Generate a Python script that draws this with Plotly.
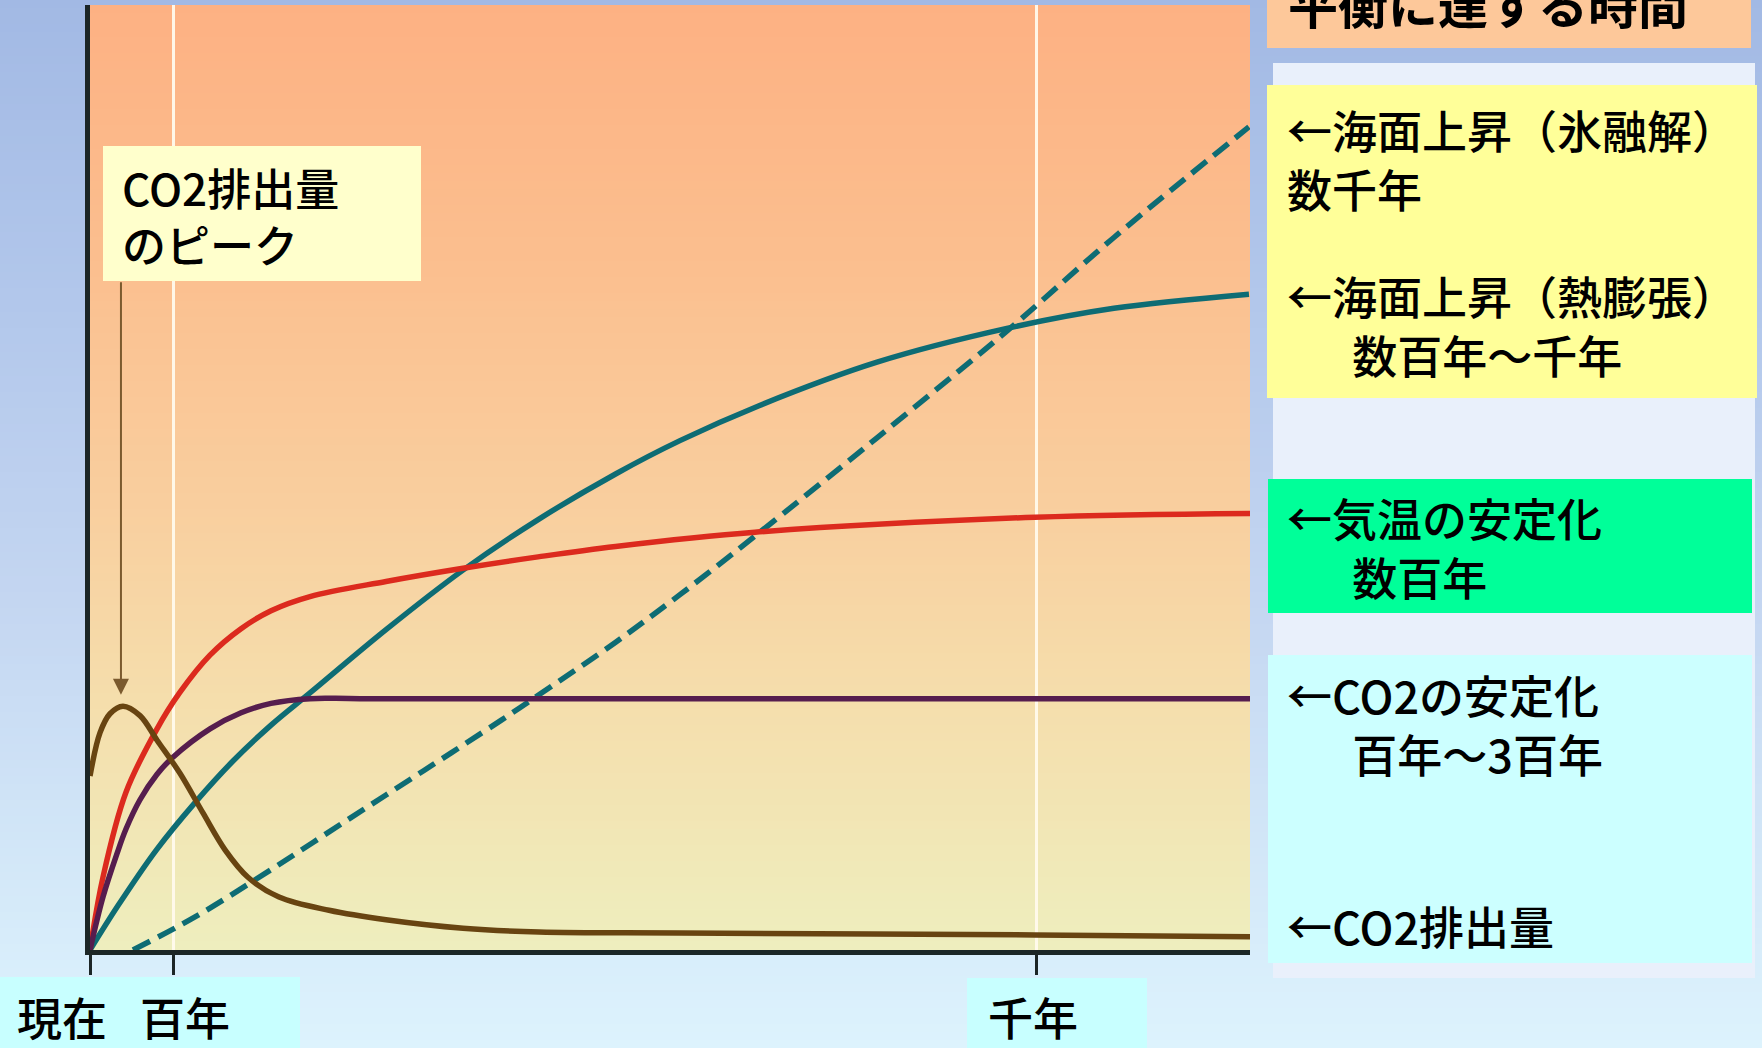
import plotly.graph_objects as go

# ---------------------------------------------------------------
# Schematic time axis: 0 = present, 1000 = one thousand years
# ---------------------------------------------------------------
tick_pos = [0, 88, 1000]
x_max = 1225
y_max = 100

# CO2 emissions (peak, then decline)
t_emis = [0, 10.6, 21.1, 34.8, 52.8, 70.8, 95.0, 119.3, 142.6, 166.8, 199.6,
          252.4, 312.6, 393.9, 474.1, 623.0, 997.9, 1225]
co2_emissions = [18.4, 23.0, 25.0, 25.8, 24.8, 22.2, 18.7, 14.5, 10.6, 7.7, 5.6,
                 4.2, 3.2, 2.3, 1.9, 1.8, 1.6, 1.4]

# CO2 concentration stabilisation
t_conc = [0, 13.7, 28.5, 38.0, 52.8, 70.8, 87.6, 126.7, 159.5, 191.2, 232.3, 285.1, 1225]
co2_concentration = [0, 5.6, 10.2, 12.8, 15.9, 18.6, 20.4, 23.4, 25.1, 26.1, 26.6, 26.6, 26.6]

# Temperature stabilisation
t_temp = [0, 13.7, 38.0, 70.2, 94.5, 126.7, 159.5, 191.2, 232.3, 312.6, 393.9,
          473.1, 555.0, 702.2, 997.9, 1225]
temperature = [0, 7.7, 16.7, 23.3, 27.2, 31.2, 34.0, 35.9, 37.4, 39.0, 40.4,
               41.6, 42.7, 44.2, 45.8, 46.2]

# Sea level rise from thermal expansion
t_thermal = [0, 29.6, 70.2, 110.9, 151.0, 191.2, 232.3, 312.6, 393.9, 474.1,
             555.5, 623.0, 706.5, 831.1, 969.4, 1081.3, 1223.9]
sea_level_thermal = [0, 4.7, 10.6, 15.6, 20.0, 23.8, 27.2, 33.9, 40.2, 45.6,
                     50.4, 53.9, 57.6, 62.2, 65.8, 67.9, 69.4]

# Sea level rise from ice melt
t_ice = [45.4, 110.9, 191.1, 272.4, 352.7, 434.0, 474.1, 555.5, 623.0, 702.2,
         831.1, 969.4, 1081.3, 1223.9]
sea_level_ice = [0, 3.5, 8.5, 13.8, 19.0, 24.3, 27.0, 32.6, 37.6, 43.8,
                 54.2, 65.6, 75.4, 87.1]

title_text = "平衡に達する時間"
peak_label = "CO2排出量<br>のピーク"
time_labels = ["現在", "百年", "千年"]
INDENT = "\u3000\u00a0\u00a0"
side_labels = ["←海面上昇（氷融解）<br>数千年",
               "←海面上昇（熱膨張）<br>" + INDENT + "数百年～千年",
               "←気温の安定化<br>" + INDENT + "数百年",
               "←CO2の安定化<br>" + INDENT + "百年～3百年",
               "←CO2排出量"]

# ---------------------------------------------------------------
# Page geometry (pixels) and helpers to convert to paper coords
# ---------------------------------------------------------------
FIG_W, FIG_H = 1762, 1048
L, R, T, B = 90, 512, 5, 98
PW = FIG_W - L - R
PH = FIG_H - T - B
BASE = FIG_H - B


def px(x):
    return (x - L) / PW


def py(y):
    return (BASE - y) / PH


def lerp(stops, v):
    for (p0, c0), (p1, c1) in zip(stops[:-1], stops[1:]):
        if v <= p1:
            f = 0 if p1 == p0 else max(0.0, (v - p0) / (p1 - p0))
            c = [round(a + (b - a) * f) for a, b in zip(c0, c1)]
            return "rgb(%d,%d,%d)" % tuple(c)
    return "rgb(%d,%d,%d)" % stops[-1][1]


page_stops = [(0, (162, 185, 228)), (300, (178, 199, 235)), (600, (196, 214, 241)),
              (900, (213, 234, 249)), (1048, (221, 243, 253))]
plot_stops = [(5, (253, 177, 131)), (250, (251, 190, 142)), (500, (249, 206, 158)),
              (700, (245, 222, 172)), (950, (238, 238, 190))]

shapes = []
# page background gradient
step = 8
for y0 in range(0, FIG_H, step):
    shapes.append(dict(type="rect", xref="paper", yref="paper", layer="below",
                       x0=px(0), x1=px(FIG_W), y0=py(y0), y1=py(y0 + step + 1),
                       fillcolor=lerp(page_stops, y0 + step / 2), line_width=0))
# plot area gradient
for y0 in range(T, BASE, step):
    y1 = min(y0 + step + 1, BASE)
    shapes.append(dict(type="rect", xref="paper", yref="paper", layer="below",
                       x0=px(L), x1=px(L + PW), y0=py(y0), y1=py(y1),
                       fillcolor=lerp(plot_stops, y0 + step / 2), line_width=0))


def box(x0, y0, x1, y1, color, layer="below"):
    shapes.append(dict(type="rect", xref="paper", yref="paper", layer=layer,
                       x0=px(x0), x1=px(x1), y0=py(y0), y1=py(y1),
                       fillcolor=color, line_width=0))


box(1273, 63, 1755, 978, "#E9F0FB")      # right-hand panel
box(1267, -20, 1751, 48, "#FDC89A")      # title box
box(1267, 85, 1757, 398, "#FFFF99")      # sea level boxes
box(1268, 479, 1752, 613, "#00FF99")     # temperature box
box(1268, 655, 1752, 963, "#CCFFFF")     # CO2 box
box(103, 146, 421, 281, "#FFFFCC", layer="above")   # peak note
box(0, 977, 300, 1060, "#C8FFFF")        # present / 100 years
box(967, 978, 1147, 1060, "#C8FFFF")     # 1000 years

# ---------------------------------------------------------------
# Curves
# ---------------------------------------------------------------
TEAL = "#0E6C74"
LW = 5.5
fig = go.Figure()
fig.add_trace(go.Scatter(x=t_ice, y=sea_level_ice, mode="lines",
                         line=dict(color=TEAL, width=LW, dash="19px,9px", shape="spline"),
                         cliponaxis=False))
fig.add_trace(go.Scatter(x=t_thermal, y=sea_level_thermal, mode="lines",
                         line=dict(color=TEAL, width=LW, shape="spline")))
fig.add_trace(go.Scatter(x=t_temp, y=temperature, mode="lines",
                         line=dict(color="#DC2A1E", width=LW, shape="spline")))
fig.add_trace(go.Scatter(x=t_conc, y=co2_concentration, mode="lines",
                         line=dict(color="#561D4E", width=LW, shape="spline")))
fig.add_trace(go.Scatter(x=t_emis, y=co2_emissions, mode="lines",
                         line=dict(color="#684411", width=LW, shape="spline")))

# ---------------------------------------------------------------
# Text
# ---------------------------------------------------------------
FONT = "Noto Sans CJK JP"
annotations = []


def label(text, x_left, y_mid, size=45, weight=500):
    annotations.append(dict(text=text, xref="paper", yref="paper",
                            x=px(x_left), y=py(y_mid), xanchor="left", yanchor="middle",
                            align="left", showarrow=False, borderpad=0,
                            font=dict(family=FONT, size=size, color="black", weight=weight)))


label(title_text, 1287, 2, size=50, weight="bold")
side_pos = [(1286, 159), (1286, 325), (1286, 547), (1286, 724), (1286, 925)]
for txt, (xl, ym) in zip(side_labels, side_pos):
    label(txt, xl, ym)

label(peak_label, 121, 215, size=44)
label(time_labels[0], 16, 1016)
label(time_labels[1], 139, 1016)
label(time_labels[2], 987, 1017)

# arrow pointing at the emissions peak
annotations.append(dict(text="", x=32.7, y=27.0, xref="x", yref="y",
                        showarrow=True, ax=0, ay=-414, axref="pixel", ayref="pixel",
                        arrowhead=2, arrowsize=1.6, arrowwidth=2, arrowcolor="#7B5A2E"))

AX = "#1C2626"
fig.update_layout(
    width=FIG_W, height=FIG_H,
    margin=dict(l=L, r=R, t=T, b=B, pad=0),
    paper_bgcolor="rgb(190,208,238)",
    plot_bgcolor="rgba(0,0,0,0)",
    showlegend=False,
    shapes=shapes,
    annotations=annotations,
    xaxis=dict(range=[0, x_max], showline=True, linecolor=AX, linewidth=5,
               ticks="outside", tickvals=tick_pos, ticklen=20, tickwidth=3, tickcolor=AX,
               showticklabels=False, showgrid=True, gridcolor="rgba(255,250,236,0.95)",
               gridwidth=3, zeroline=False, fixedrange=True),
    yaxis=dict(range=[0, y_max], showline=True, linecolor=AX, linewidth=5,
               ticks="", showticklabels=False, showgrid=False, zeroline=False,
               fixedrange=True),
)

fig.write_html("out.html")
